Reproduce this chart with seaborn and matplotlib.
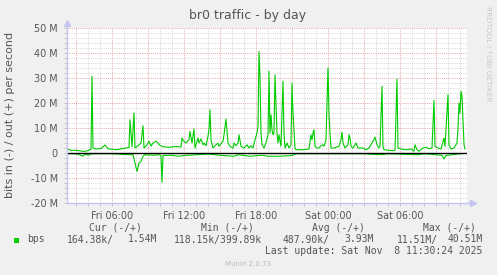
import numpy as np
import pandas as pd
import matplotlib
matplotlib.use("Agg")
import matplotlib.pyplot as plt
import matplotlib.dates as mdates
from matplotlib.ticker import MultipleLocator, FuncFormatter
from matplotlib.patches import Rectangle
import seaborn as sns

# ---------------- data (Mbit/s) ----------------
DAYS = {"Fri": "2025-11-07", "Sat": "2025-11-08"}

out_times = [
    "Fri 02:15", "Fri 02:20", "Fri 02:35", "Fri 03:00", "Fri 03:40", "Fri 04:00", "Fri 04:10", "Fri 04:15",
    "Fri 04:20", "Fri 04:25", "Fri 04:40", "Fri 05:05", "Fri 05:25", "Fri 05:40", "Fri 06:20", "Fri 07:10",
    "Fri 07:25", "Fri 07:30", "Fri 07:40", "Fri 07:50", "Fri 07:55", "Fri 08:10", "Fri 08:25", "Fri 08:35",
    "Fri 08:40", "Fri 08:55", "Fri 09:05", "Fri 09:15", "Fri 09:25", "Fri 09:40", "Fri 09:50", "Fri 09:55",
    "Fri 10:15", "Fri 10:45", "Fri 11:20", "Fri 11:45", "Fri 11:50", "Fri 11:55", "Fri 12:10", "Fri 12:25",
    "Fri 12:30", "Fri 12:40", "Fri 12:50", "Fri 12:55", "Fri 13:10", "Fri 13:15", "Fri 13:25", "Fri 13:35",
    "Fri 13:40", "Fri 13:50", "Fri 14:00", "Fri 14:05", "Fri 14:10", "Fri 14:15", "Fri 14:25", "Fri 14:40",
    "Fri 14:50", "Fri 14:55", "Fri 15:15", "Fri 15:20", "Fri 15:30", "Fri 15:40", "Fri 15:50", "Fri 16:05",
    "Fri 16:10", "Fri 16:20", "Fri 16:30", "Fri 16:35", "Fri 16:45", "Fri 17:00", "Fri 17:15", "Fri 17:25",
    "Fri 17:35", "Fri 17:45", "Fri 17:55", "Fri 18:05", "Fri 18:10", "Fri 18:15", "Fri 18:20", "Fri 18:25",
    "Fri 18:30", "Fri 18:40", "Fri 18:50", "Fri 19:00", "Fri 19:05", "Fri 19:10", "Fri 19:15", "Fri 19:20",
    "Fri 19:25", "Fri 19:30", "Fri 19:35", "Fri 19:45", "Fri 19:50", "Fri 19:55", "Fri 20:05", "Fri 20:15",
    "Fri 20:20", "Fri 20:25", "Fri 20:35", "Fri 20:45", "Fri 20:55", "Fri 21:00", "Fri 21:05", "Fri 21:15",
    "Fri 21:20", "Fri 21:55", "Fri 22:25", "Fri 22:35", "Fri 22:40", "Fri 22:45", "Fri 22:50", "Fri 22:55",
    "Fri 23:05", "Fri 23:15", "Fri 23:25", "Fri 23:35", "Fri 23:40", "Fri 23:50",
    "Sat 00:00", "Sat 00:05", "Sat 00:10", "Sat 00:15", "Sat 00:30", "Sat 00:55", "Sat 01:05", "Sat 01:10",
    "Sat 01:15", "Sat 01:25", "Sat 01:40", "Sat 01:45", "Sat 01:50", "Sat 01:55", "Sat 02:05", "Sat 02:20",
    "Sat 02:30", "Sat 02:45", "Sat 02:55", "Sat 03:10", "Sat 03:25", "Sat 03:40", "Sat 03:45", "Sat 03:55",
    "Sat 04:05", "Sat 04:15", "Sat 04:20", "Sat 04:30", "Sat 04:35", "Sat 04:40", "Sat 05:25", "Sat 05:35",
    "Sat 05:45", "Sat 05:50", "Sat 06:05", "Sat 06:30", "Sat 06:55", "Sat 07:10", "Sat 07:15", "Sat 07:25",
    "Sat 07:35", "Sat 07:55", "Sat 08:10", "Sat 08:25", "Sat 08:40", "Sat 08:50", "Sat 08:55", "Sat 09:10",
    "Sat 09:25", "Sat 09:40", "Sat 09:45", "Sat 10:00", "Sat 10:05", "Sat 10:15", "Sat 10:30", "Sat 10:45",
    "Sat 10:50", "Sat 10:55", "Sat 11:00", "Sat 11:05", "Sat 11:10", "Sat 11:20", "Sat 11:25",
]
out_mbps = [
    1.0, 1.6, 1.0, 1.1, 0.6, 1.0, 1.3, 1.5,
    30.7, 2.0, 1.6, 1.8, 3.2, 1.7, 1.3, 2.0,
    2.2, 13.3, 2.5, 16.0, 2.0, 2.9, 4.0, 10.9,
    2.0, 3.3, 4.7, 2.7, 4.0, 4.7, 4.0, 3.3,
    2.5, 2.3, 2.6, 2.4, 6.0, 5.1, 4.0, 5.3,
    8.7, 4.0, 9.6, 2.0, 6.0, 4.0, 5.6, 3.3,
    4.0, 2.9, 6.7, 9.3, 17.3, 5.3, 2.0, 3.3,
    4.0, 2.7, 4.7, 7.3, 13.6, 4.0, 2.7, 2.0,
    4.0, 2.9, 4.0, 7.3, 2.7, 2.0, 3.3, 2.0,
    2.9, 2.0, 5.3, 8.0, 10.7, 40.6, 30.0, 8.0,
    3.3, 2.0, 4.0, 7.3, 32.7, 8.0, 15.3, 9.3,
    7.3, 8.0, 31.3, 8.0, 4.0, 7.3, 2.7, 28.7,
    8.0, 2.0, 4.0, 2.0, 3.3, 28.0, 16.0, 2.0,
    1.3, 1.3, 1.6, 7.3, 5.3, 8.0, 9.3, 2.7,
    2.0, 2.0, 2.9, 3.3, 2.7, 5.3,
    34.0, 16.0, 8.0, 2.0, 2.0, 2.7, 5.3, 8.3,
    4.0, 2.0, 3.3, 7.3, 6.0, 2.7, 2.0, 4.0,
    2.0, 2.0, 2.0, 1.3, 2.0, 4.0, 4.7, 6.4,
    3.3, 2.0, 2.7, 26.7, 2.7, 1.3, 0.9, 1.1,
    29.6, 2.0, 1.6, 1.3, 1.6, 0.7, 3.3, 1.3,
    0.7, 2.0, 2.3, 1.7, 2.0, 21.0, 2.7, 2.0,
    1.6, 6.0, 2.7, 23.3, 3.3, 1.6, 2.0, 4.0,
    10.0, 20.0, 16.0, 24.7, 22.7, 3.3, 1.54,
]

in_times = [
    "Fri 02:15", "Fri 02:45", "Fri 03:10", "Fri 03:35", "Fri 03:45", "Fri 04:00", "Fri 04:20", "Fri 05:00",
    "Fri 06:00", "Fri 07:10", "Fri 07:45", "Fri 08:05", "Fri 08:15", "Fri 08:25", "Fri 08:35", "Fri 08:45",
    "Fri 09:30", "Fri 10:00", "Fri 10:05", "Fri 10:10", "Fri 10:15", "Fri 11:00", "Fri 11:30", "Fri 12:00",
    "Fri 13:00", "Fri 14:00", "Fri 15:00", "Fri 16:10", "Fri 16:30", "Fri 17:30", "Fri 18:15", "Fri 18:30",
    "Fri 19:00", "Fri 20:00", "Fri 21:00", "Fri 21:20", "Fri 23:00",
    "Sat 00:00", "Sat 02:00", "Sat 03:00", "Sat 04:30", "Sat 05:00", "Sat 07:30", "Sat 08:00", "Sat 09:30",
    "Sat 09:40", "Sat 09:50", "Sat 10:30", "Sat 11:00", "Sat 11:25",
]
in_mbps = [
    0.3, 0.3, 0.5, 1.3, 0.4, 0.9, 0.3, 0.3,
    0.3, 0.6, 0.7, 7.4, 4.0, 3.3, 1.3, 0.7,
    0.9, 0.7, 1.3, 11.7, 1.0, 0.9, 1.3, 1.0,
    0.7, 0.4, 0.9, 1.3, 0.7, 1.3, 1.0, 0.9,
    1.3, 1.3, 1.0, 0.3, 0.3,
    0.3, 0.3, 0.3, 0.7, 0.3, 0.7, 0.3, 0.9,
    2.4, 1.0, 0.6, 0.3, 0.16,
]

legend_headers = ["Cur (-/+)", "Min (-/+)", "Avg (-/+)", "Max (-/+)"]
legend_in = ["164.38k/", "118.15k/", "487.90k/", "11.51M/"]
legend_out = ["1.54M", "399.89k", "3.93M", "40.51M"]
series_name = "bps"
last_update = "Last update: Sat Nov  8 11:30:24 2025"


def to_ts(labels):
    return pd.to_datetime([DAYS[s.split()[0]] + " " + s.split()[1] for s in labels])


df_out = pd.DataFrame({"time": to_ts(out_times), "bps": np.array(out_mbps) * 1e6})
df_in = pd.DataFrame({"time": to_ts(in_times), "bps": -np.array(in_mbps) * 1e6})

# ---------------- figure ----------------
sns.set_theme(style="white")
plt.rcParams["font.family"] = ["DejaVu Sans"]

W, H = 497, 275
BG = "#F0F0F0"
GREEN = "#00CC00"
TXT = "#555555"
AXC = "#C4C4F0"

fig = plt.figure(figsize=(W / 100, H / 100), dpi=100, facecolor=BG)
ax = fig.add_axes([67 / W, 1 - 203 / H, 400 / W, 175 / H])
ax.set_facecolor("white")

sns.lineplot(data=df_out, x="time", y="bps", ax=ax, color=GREEN, linewidth=0.8, zorder=4)
sns.lineplot(data=df_in, x="time", y="bps", ax=ax, color=GREEN, linewidth=0.8, zorder=4)
ax.axhline(0, color="black", linewidth=1.0, zorder=5)

ax.set_xlim(pd.Timestamp("2025-11-07 02:15"), pd.Timestamp("2025-11-08 11:35"))
ax.set_ylim(-20e6, 50e6)

ax.xaxis.set_major_locator(mdates.HourLocator(byhour=range(0, 24, 3)))
ax.xaxis.set_minor_locator(mdates.HourLocator())


def xfmt(v, p):
    d = mdates.num2date(v)
    return d.strftime("%a %H:%M") if d.hour % 6 == 0 else ""


ax.xaxis.set_major_formatter(FuncFormatter(xfmt))
ax.yaxis.set_major_locator(MultipleLocator(10e6))
ax.yaxis.set_minor_locator(MultipleLocator(2e6))
ax.yaxis.set_major_formatter(FuncFormatter(lambda v, p: "0" if abs(v) < 1 else f"{int(round(v / 1e6))} M"))

ax.grid(which="minor", color="#D6D6D6", linestyle=(0, (1, 1.2)), linewidth=0.7, zorder=1)
ax.grid(which="major", color="#E6A4A4", linestyle=(0, (1, 1.2)), linewidth=0.7, zorder=2)
ax.set_axisbelow(True)

ax.set_xlabel("")
ax.set_ylabel("")
ax.tick_params(which="both", bottom=True, left=True, length=2, width=0.6, color="#BBBBBB")
ax.tick_params(axis="both", which="major", labelsize=6.9, labelcolor=TXT)
ax.tick_params(axis="x", which="major", pad=4)
ax.tick_params(axis="y", which="major", pad=4.5)
for s in ax.spines.values():
    s.set_visible(False)

# axes lines with arrows (rrdtool style)
ax.plot([0, 0], [0, 1.03], transform=ax.transAxes, clip_on=False, color=AXC, lw=1, zorder=6)
ax.plot([0, 1.015], [0, 0], transform=ax.transAxes, clip_on=False, color=AXC, lw=1, zorder=6)
ax.plot([0], [1.03], marker="^", ms=4, transform=ax.transAxes, clip_on=False, color=AXC, zorder=6)
ax.plot([1.015], [0], marker=">", ms=4, transform=ax.transAxes, clip_on=False, color=AXC, zorder=6)


def ft(x, y, s, **kw):
    fig.text(x / W, 1 - y / H, s, **kw)


ft(248, 16, "br0 traffic - by day", ha="center", va="center", fontsize=9, color=TXT)
ft(10, 114.5, "bits in (-) / out (+) per second", ha="center", va="center", rotation=90,
   fontsize=8, color=TXT)
ft(488, 53.5, "RRDTOOL / TOBI OETIKER", ha="center", va="center", rotation=270,
   fontsize=5.4, color="#C8C8C8")

mono = dict(family="DejaVu Sans Mono", fontsize=7.0, color=TXT, va="center")
hdr_x = [89.3, 201, 312.3, 422.7]
for hx, h in zip(hdr_x, legend_headers):
    ft(hx, 227.7, h, ha="left", **mono)
ft(26.7, 239.5, series_name, ha="left", **mono)
# Cur
ft(66.7, 239.5, legend_in[0], ha="left", **mono)
ft(157.3, 239.5, legend_out[0], ha="right", **mono)
# Min (values run together, as in the original)
ft(174.3, 239.5, legend_in[1] + legend_out[1], ha="left", **mono)
# Avg
ft(282.7, 239.5, legend_in[2], ha="left", **mono)
ft(374, 239.5, legend_out[2], ha="right", **mono)
# Max
ft(397.3, 239.5, legend_in[3], ha="left", **mono)
ft(482.3, 239.5, legend_out[3], ha="right", **mono)
ft(482.3, 251, last_update, ha="right", **mono)
ft(248, 263.5, "Munin 2.0.73", ha="center", va="center", fontsize=5, color="#BBBBBB")

fig.patches.append(Rectangle((14 / W, 1 - 242.5 / H), 5.3 / W, 5 / H, transform=fig.transFigure,
                             facecolor=GREEN, edgecolor="none"))

fig.savefig("out.png", dpi=100, facecolor=BG)
